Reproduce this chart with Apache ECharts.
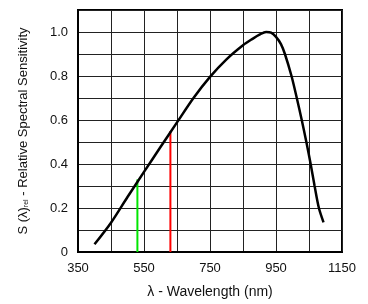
<!DOCTYPE html>
<html>
<head>
<meta charset="utf-8">
<script src="https://cdn.jsdelivr.net/npm/echarts@6/dist/echarts.min.js"></script>
<style>
  html, body { margin: 0; padding: 0; background: #fff; }
  #chart { width: 368px; height: 304px; }
</style>
</head>
<body>
<div id="chart"></div>
<script>
// spectral sensitivity curve
const wavelengths = [400, 450, 500, 550, 600, 650, 700, 750, 800, 850, 880, 900, 920, 935, 950, 965, 977, 997, 1013, 1028, 1042, 1055, 1067, 1080, 1094]
const sensitivity = [0.035, 0.133, 0.25, 0.364, 0.477, 0.589, 0.7, 0.796, 0.876, 0.94, 0.97, 0.988, 1.0, 0.997, 0.978, 0.945, 0.9, 0.8, 0.7, 0.6, 0.5, 0.4, 0.3, 0.2, 0.135]

// marker lines (wavelength, height)
const greenMarker = [530, 0.33]
const redMarker = [630, 0.55]

const xTicks = [350, 550, 750, 950, 1150]
const yTicks = [0, 0.2, 0.4, 0.6, 0.8, 1.0]

const chart = echarts.init(document.getElementById('chart'))

const font = 'Liberation Sans, Arial, sans-serif'

const option = {
  animation: false,
  grid: {
    left: 78,
    right: 26,
    top: 10,
    bottom: 52,
    show: true,
    borderColor: '#000',
    borderWidth: 2
  },
  xAxis: {
    type: 'value',
    min: 350,
    max: 1150,
    interval: 100,
    name: 'λ - Wavelength (nm)',
    nameLocation: 'middle',
    nameGap: 33,
    nameTextStyle: { fontFamily: font, fontSize: 14, color: '#111' },
    axisLine: { show: true, lineStyle: { color: '#000', width: 2 } },
    axisTick: { show: false },
    axisLabel: {
      fontFamily: font,
      fontSize: 13,
      color: '#111',
      margin: 10,
      formatter: (v) => xTicks.includes(v) ? String(v) : ''
    },
    splitLine: { lineStyle: { color: '#222', width: 1 } }
  },
  yAxis: {
    type: 'value',
    min: 0,
    max: 1.1,
    interval: 0.1,
    name: '{a|S (λ)}{b|rel}{a| - Relative Spectral Sensitivity}',
    nameLocation: 'middle',
    nameGap: 48,
    nameTextStyle: {
      rich: {
        a: { fontFamily: font, fontSize: 13, color: '#111' },
        b: { fontFamily: font, fontSize: 7, color: '#111', verticalAlign: 'bottom', padding: [6, 0, 0, 0] }
      }
    },
    axisLine: { show: true, lineStyle: { color: '#000', width: 2 } },
    axisTick: { show: false },
    axisLabel: {
      fontFamily: font,
      fontSize: 13,
      color: '#111',
      margin: 10,
      formatter: (v) => {
        const r = Math.round(v * 10) / 10
        if (!yTicks.some(t => Math.abs(t - r) < 1e-6)) return ''
        return r === 0 ? '0' : r.toFixed(1)
      }
    },
    splitLine: { lineStyle: { color: '#222', width: 1 } }
  },
  series: [
    {
      name: 'green',
      type: 'line',
      data: [[greenMarker[0], 0], greenMarker],
      symbol: 'none',
      lineStyle: { color: '#00e600', width: 2 },
      z: 3
    },
    {
      name: 'red',
      type: 'line',
      data: [[redMarker[0], 0], redMarker],
      symbol: 'none',
      lineStyle: { color: '#ff0000', width: 2 },
      z: 3
    },
    {
      name: 'sensitivity',
      type: 'line',
      data: wavelengths.map((w, i) => [w, sensitivity[i]]),
      smooth: 0.3,
      symbol: 'none',
      lineStyle: { color: '#000', width: 2.5 },
      z: 4
    }
  ]
}

chart.setOption(option)
</script>
</body>
</html>
